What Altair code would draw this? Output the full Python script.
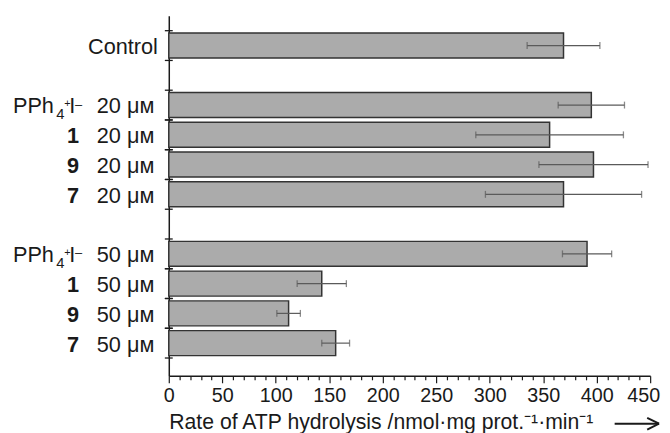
import altair as alt
import pandas as pd

compounds = ["Control", "PPh4+I-", "1", "9", "7", "PPh4+I-", "1", "9", "7"]
concentrations = ["", "20", "20", "20", "20", "50", "50", "50", "50"]
rates = [369, 395, 356, 397, 369, 391, 143, 112, 156]
errors = [34, 31, 69, 51, 73, 23, 23, 11, 13]
slots = [0, 2, 3, 4, 5, 7, 8, 9, 10]
x_ticks = list(range(0, 451, 10))

df = pd.DataFrame(dict(compound=compounds, conc=concentrations, rate=rates,
                       err=errors, slot=slots))
df["lo"] = df["rate"] - df["err"]
df["hi"] = df["rate"] + df["err"]
df["ytop"] = df["slot"] - 0.42
df["ybot"] = df["slot"] + 0.42

W, H = 488, 365
FONT = "Liberation Sans"
INK = "#1a1a1a"

xscale = alt.Scale(domain=[0, 450], nice=False, zero=True)
yscale = alt.Scale(domain=[-1, 11.1], nice=False, zero=False, reverse=True)

xaxis = alt.Axis(
    values=x_ticks,
    labelExpr="datum.value % 50 == 0 ? datum.label : ''",
    labelOverlap=False,
    labelFlush=False,
    labelOffset={"condition": {"test": "datum.value == 450", "value": -7}, "value": 0},
    labelFont=FONT, labelFontSize=20, labelColor=INK, labelPadding=3,
    tickSize={"condition": {"test": "datum.value % 50 == 0", "value": 7}, "value": 4},
    tickColor=INK, tickWidth=1.2,
    domainColor=INK, domainWidth=1.5,
    grid=False,
    title="Rate of ATP hydrolysis /nmol·mg prot.⁻¹·min⁻¹",
    titleFont=FONT, titleFontSize=21.5, titleFontWeight="normal", titleColor=INK,
    titleAnchor="start", titleAlign="left", titleX=0, titleY=53,
    titleBaseline="alphabetic",
)
yaxis = alt.Axis(ticks=False, labels=False, title=None, grid=False,
                 domainColor=INK, domainWidth=1.5)

base = alt.Chart(df)

bars = base.mark_rect(fill="#ababab", stroke="#333333", strokeWidth=1.5).encode(
    x=alt.X("rate:Q", scale=xscale, axis=xaxis),
    x2=alt.datum(0),
    y=alt.Y("ytop:Q", scale=yscale, axis=yaxis),
    y2="ybot:Q",
)

err_line = base.mark_rule(color="#5a5a5a", strokeWidth=1.2).encode(
    x=alt.X("lo:Q", scale=xscale, axis=None),
    x2="hi:Q",
    y=alt.Y("slot:Q", scale=yscale, axis=None),
)

err_caps = base.transform_fold(["lo", "hi"], as_=["k", "v"]).mark_tick(
    orient="vertical", size=7, thickness=1.3, color="#5a5a5a"
).encode(
    x=alt.X("v:Q", scale=xscale, axis=None),
    y=alt.Y("slot:Q", scale=yscale, axis=None),
)

y_ticks = base.transform_calculate(
    a="datum.slot - 0.5", b="datum.slot + 0.5"
).transform_fold(["a", "b"], as_=["k", "v"]).mark_rule(
    color=INK, strokeWidth=1.3
).encode(
    y=alt.Y("v:Q", scale=yscale, axis=None),
    x=alt.value(-4), x2=alt.value(4),
)

def txt(filter_expr, text, x, align="left", size=22, dy=8.5, weight="normal"):
    return base.transform_filter(filter_expr).mark_text(
        align=align, baseline="alphabetic", font=FONT, fontSize=size,
        fontWeight=weight, color=INK, dy=dy
    ).encode(
        y=alt.Y("slot:Q", scale=yscale, axis=None),
        x=alt.value(x),
        text=text,
    )

is_ctrl = "datum.compound == 'Control'"
is_pph = "datum.compound == 'PPh4+I-'"
is_num = "datum.compound == '1' || datum.compound == '9' || datum.compound == '7'"
has_conc = "datum.conc != ''"

labels = [
    txt(is_ctrl, alt.Text("compound:N"), -11, align="right"),
    txt(is_num, alt.Text("compound:N"), -91, align="right", weight="bold"),
    txt(is_pph, alt.value("PPh"), -158),
    txt(is_pph, alt.value("4"), -114, size=15, dy=14.5),
    txt(is_pph, alt.value("+"), -106, size=11, dy=2),
    txt(is_pph, alt.value("I"), -101),
    txt(is_pph, alt.value("–"), -95, size=13, dy=3.5),
    base.transform_filter(has_conc).transform_calculate(
        ct="datum.conc + ' μᴍ'"
    ).mark_text(
        align="left", baseline="alphabetic", font=FONT, fontSize=22,
        color=INK, dy=8.5
    ).encode(
        y=alt.Y("slot:Q", scale=yscale, axis=None),
        x=alt.value(-73),
        text="ct:N",
    ),
]

one = alt.Data(values=[{}])
AX0, AX1, AXH, AY = 452, 497, 485, 413.5
arrow_line = alt.Chart(one).mark_rule(color=INK, strokeWidth=2).encode(
    x=alt.value(AX0), x2=alt.value(AX1), y=alt.value(AY), y2=alt.value(AY)
)
arrow_h1 = alt.Chart(one).mark_rule(color=INK, strokeWidth=2).encode(
    x=alt.value(AXH), x2=alt.value(AX1), y=alt.value(AY - 6), y2=alt.value(AY)
)
arrow_h2 = alt.Chart(one).mark_rule(color=INK, strokeWidth=2).encode(
    x=alt.value(AXH), x2=alt.value(AX1), y=alt.value(AY + 6), y2=alt.value(AY)
)

chart = alt.layer(
    bars, err_line, err_caps, y_ticks, *labels, arrow_line, arrow_h1, arrow_h2
).resolve_axis(x="independent", y="independent").properties(
    width=W, height=H,
    autosize=alt.AutoSizeParams(type="none"),
    padding={"left": 163, "top": 5, "right": 12, "bottom": 55},
).configure_view(stroke=None)

chart.save("out.html", embed_options={"renderer": "svg", "actions": False})
